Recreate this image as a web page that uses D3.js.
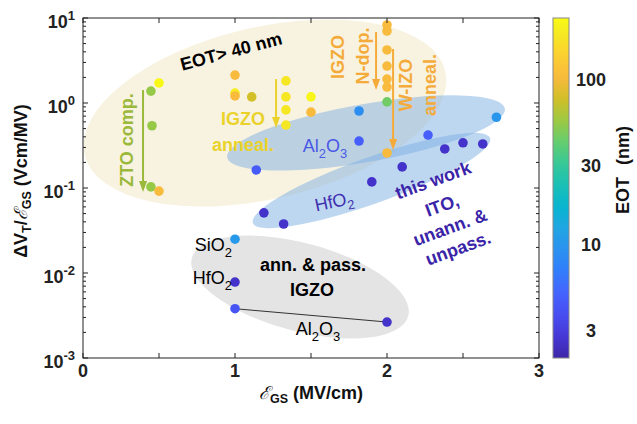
<!DOCTYPE html>
<html><head><meta charset="utf-8">
<script src="https://cdn.jsdelivr.net/npm/d3@7"></script>
<style>
body{margin:0;background:#fff;}
text{font-family:Arial,"Liberation Sans",Helvetica,sans-serif;}
</style>
</head><body>
<svg id="chart" width="637" height="424"></svg>
<script>
// ---------------- data: [E_GS (MV/cm), dVT/E_GS (Vcm/MV), EOT (nm)] ----------------
const ztoPoints = [[0.447,1.38,55],[0.50,1.72,230],[0.454,0.54,55],[0.447,0.103,55],[0.50,0.092,105]];
const igzoAnnealPoints = [[1.0,2.13,105],[1.0,1.31,200],[1.0,1.21,105],[1.11,1.18,78],
  [1.335,1.82,185],[1.335,1.18,185],[1.335,0.83,185],[1.335,0.55,185],[1.5,1.18,220],[1.5,0.78,105]];
const izoPoints = [[2.0,8.28,105],[2.0,7.03,105],[2.0,4.21,105],[2.0,2.72,105],[2.0,1.91,105],
  [2.0,1.54,105],[2.0,1.03,45],[2.0,0.258,105]];
const al2o3Points = [[1.14,0.163,4.6],[1.816,0.805,9],[1.816,0.357,4.8],[2.27,0.42,4.8],[2.72,0.68,10]];
const thisWorkPoints = [[1.19,0.051,2.6],[1.32,0.0377,2.6],[1.9,0.118,2.6],[2.1,0.177,2.6],
  [2.38,0.288,2.6],[2.5,0.34,2.6],[2.63,0.33,2.6]];
const annPassPoints = [[1.0,0.025,10.5],[1.0,0.00783,2.6],[1.0,0.0038,4.2],[2.0,0.00265,2.6]];
const annPassLine = [[1.0,0.0038],[2.0,0.00265]];
const xTicks = [0,0.5,1,1.5,2,2.5,3];
const xLabelTicks = [0,1,2,3];
const xTickLabels = ["0","1","2","3"];
const yTickExponents = [1,0,-1,-2,-3];
const cTicks = [3,10,30,100];
const cTickLabels = ["3","10","30","100"];
// arrows: [x, yStart, yEnd]
const arrowsZTO = [0.395,1.42,0.0897];
const arrowsIGZO = [1.27,1.91,0.508];
const arrowsNdop = [1.928,6.84,1.42];
const arrowsWIZO = [2.04,4.32,0.28];

// ---------------- parula colormap ----------------
const parulaStops = [
 [0,[0.2422,0.1504,0.6603]],[4,[0.2706,0.2147,0.8364]],[8,[0.2813,0.3006,0.9414]],
 [12,[0.2699,0.3892,0.9906]],[16,[0.1963,0.4847,0.9892]],[20,[0.1687,0.5703,0.9359]],
 [24,[0.1248,0.6459,0.8883]],[28,[0.0297,0.7082,0.8163]],[32,[0.0964,0.7500,0.7120]],
 [36,[0.2161,0.7843,0.5923]],[40,[0.3909,0.8029,0.4354]],[44,[0.6174,0.7876,0.2612]],
 [48,[0.8203,0.7498,0.1535]],[52,[0.9728,0.7298,0.2394]],[56,[0.9892,0.8136,0.1885]],
 [60,[0.9597,0.9135,0.1423]],[63,[0.9769,0.9839,0.0805]]];
const parula = d3.scaleLinear()
  .domain(parulaStops.map(d=>d[0]/63))
  .range(parulaStops.map(d=>d3.rgb(d[1][0]*255,d[1][1]*255,d[1][2]*255).toString()))
  .interpolate(d3.interpolateRgb).clamp(true);

// ---------------- layout ----------------
const svg = d3.select("#chart");
const M = {l:83, r:539, t:18, b:358};
const x = d3.scaleLinear().domain([0,3]).range([M.l,M.r]);
const y = d3.scaleLog().domain([1e-3,10]).range([M.b,M.t]);
const cNorm = d3.scaleLog().domain([2.07,238]).range([0,1]).clamp(true);
const cY = d3.scaleLog().domain([2.07,238]).range([358,18]);
const color = v => parula(cNorm(v));
const FS = 18;

svg.append("defs").append("clipPath").attr("id","clip")
  .append("rect").attr("x",M.l).attr("y",M.t).attr("width",M.r-M.l).attr("height",M.b-M.t);
const plot = svg.append("g").attr("clip-path","url(#clip)");

// rich text helper: _{..} subscript
function rich(sel, str){
  const re = /_\{([^}]*)\}|([^_]+)/g; let m, shift=0;
  const fs = parseFloat(sel.attr("font-size"));
  while((m=re.exec(str))){
    if(m[2]!==undefined){
      sel.append("tspan").attr("dy", -shift).text(m[2]); shift=0;
    } else {
      const d = 0.28*fs;
      sel.append("tspan").attr("dy", d-shift).attr("font-size", fs*0.72).text(m[1]);
      shift = d;
    }
  }
}

// ---------------- ellipses (annotation regions) ----------------
const regions = [
 {cx:1.197, cy:0.762, rx:185, ry:86, rot:-13, fill:"#f8f3e1", op:1},
 {cx:1.862, cy:0.444, rx:141, ry:29, rot:-10, fill:"rgb(125,175,228)", op:0.5},
 {cx:1.898, cy:0.1225, rx:126, ry:23, rot:-19.7, fill:"rgb(125,175,228)", op:0.5},
 {cx:1.428, cy:0.00684, rx:112, ry:44, rot:15, fill:"#e4e4e4", op:1}
];
plot.selectAll("ellipse.reg").data(regions).join("ellipse")
  .attr("transform",d=>`translate(${x(d.cx)},${y(d.cy)}) rotate(${d.rot})`)
  .attr("rx",d=>d.rx).attr("ry",d=>d.ry)
  .attr("fill",d=>d.fill).attr("fill-opacity",d=>d.op);

// connecting line
plot.append("path").attr("d", d3.line().x(d=>x(d[0])).y(d=>y(d[1]))(annPassLine))
  .attr("stroke","#333").attr("stroke-width",1).attr("fill","none");

// arrows
function arrow(a, col){
  const X=x(a[0]), Y1=y(a[1]), Y2=y(a[2]);
  plot.append("line").attr("x1",X).attr("x2",X).attr("y1",Y1).attr("y2",Y2-8)
    .attr("stroke",col).attr("stroke-width",2);
  plot.append("path").attr("d",`M${X-4},${Y2-11}L${X+4},${Y2-11}L${X},${Y2}Z`).attr("fill",col);
}
arrow(arrowsZTO,"#9ab83a");
arrow(arrowsIGZO,"#ead22a");
arrow(arrowsNdop,"#f5ab3a");
arrow(arrowsWIZO,"#f5ab3a");

// points
const allGroups = [ztoPoints, igzoAnnealPoints, izoPoints, al2o3Points, thisWorkPoints, annPassPoints];
allGroups.forEach(g=>{
  plot.append("g").selectAll("circle").data(g).join("circle")
    .attr("cx",d=>x(d[0])).attr("cy",d=>y(d[1])).attr("r",4.8)
    .attr("fill",d=>color(d[2]));
});

// ---------------- annotation texts ----------------
const notes = [
 {t:"EOT> 40 nm", x:231, y:51, rot:-15, w:"bold", f:"#000"},
 {t:"ZTO comp.", x:127, y:140, rot:-90, w:"bold", f:"#9ab83a"},
 {t:"IGZO", x:243, y:119, rot:0, w:"bold", f:"#ead22a"},
 {t:"anneal.", x:243, y:145, rot:0, w:"bold", f:"#ead22a"},
 {t:"IGZO", x:338, y:57, rot:-90, w:"bold", f:"#f5ab3a"},
 {t:"N-dop.", x:363, y:56, rot:-90, w:"bold", f:"#f5ab3a"},
 {t:"W-IZO", x:406, y:85, rot:-90, w:"bold", f:"#f5ab3a"},
 {t:"anneal.", x:430, y:85, rot:-90, w:"bold", f:"#f5ab3a"},
 {t:"Al_{2}O_{3}", x:325, y:146, rot:0, w:"normal", f:"#4a58e6"},
 {t:"HfO_{2}", x:334, y:201, rot:-12, w:"normal", f:"#3f30b0"},
 {t:"this work", x:433, y:180, rot:-20, w:"bold", f:"#3a24a8"},
 {t:"ITO,", x:442, y:205, rot:-20, w:"bold", f:"#3a24a8"},
 {t:"unann. &", x:450, y:227, rot:-20, w:"bold", f:"#3a24a8"},
 {t:"unpass.", x:458, y:248, rot:-20, w:"bold", f:"#3a24a8"},
 {t:"SiO_{2}", x:232, y:245, rot:0, w:"normal", f:"#000", a:"end"},
 {t:"HfO_{2}", x:232, y:278, rot:0, w:"normal", f:"#000", a:"end"},
 {t:"Al_{2}O_{3}", x:318, y:329, rot:0, w:"normal", f:"#000"},
 {t:"ann. & pass.", x:313, y:265, rot:0, w:"bold", f:"#000"},
 {t:"IGZO", x:312, y:290, rot:0, w:"bold", f:"#000"}
];
notes.forEach(n=>{
  const tx = svg.append("text")
    .attr("transform",`translate(${n.x},${n.y}) rotate(${n.rot})`)
    .attr("y", FS*0.36).attr("text-anchor", n.a||"middle")
    .attr("font-size", FS).attr("font-weight", n.w).attr("fill", n.f);
  rich(tx, n.t);
});

// ---------------- axes ----------------
const ax = svg.append("g").attr("stroke","#222").attr("stroke-width",1).attr("fill","none");
ax.append("rect").attr("x",M.l).attr("y",M.t).attr("width",M.r-M.l).attr("height",M.b-M.t);
xTicks.forEach(v=>{
  ax.append("line").attr("x1",x(v)).attr("x2",x(v)).attr("y1",M.b).attr("y2",M.b-5);
  ax.append("line").attr("x1",x(v)).attr("x2",x(v)).attr("y1",M.t).attr("y2",M.t+5);
});
for(let k=-3;k<=1;k++){
  for(let m=1;m<=9;m++){
    const v=m*Math.pow(10,k); if(v>10) break;
    const L = m===1?5:3;
    ax.append("line").attr("x1",M.l).attr("x2",M.l+L).attr("y1",y(v)).attr("y2",y(v));
    ax.append("line").attr("x1",M.r).attr("x2",M.r-L).attr("y1",y(v)).attr("y2",y(v));
  }
}
svg.append("g").selectAll("text").data(xLabelTicks).join("text")
  .attr("x",d=>x(d)).attr("y",377).attr("text-anchor","middle")
  .attr("font-size",FS).attr("font-weight","bold").attr("fill","#222")
  .text((d,i)=>xTickLabels[i]);
yTickExponents.forEach(e=>{
  const t = svg.append("text").attr("x",M.l-8).attr("y",y(Math.pow(10,e))+10)
    .attr("text-anchor","end").attr("font-size",FS).attr("font-weight","bold").attr("fill","#222");
  t.append("tspan").text("10");
  t.append("tspan").attr("dy",-8).attr("font-size",13).text(e<0?"-"+(-e):String(e));
});

// axis titles
const xl = svg.append("text").attr("x",311).attr("y",399).attr("text-anchor","middle")
  .attr("font-size",FS).attr("font-weight","bold").attr("fill","#111");
xl.append("tspan").attr("font-weight","normal").attr("font-style","italic").attr("font-family","DejaVu Serif").text("\u2130");
xl.append("tspan").attr("dy",4).attr("font-size",12.5).text("GS");
xl.append("tspan").attr("dy",-4).text(" (MV/cm)");

const yl = svg.append("text").attr("transform","translate(27,181) rotate(-90)")
  .attr("text-anchor","middle").attr("font-size",FS).attr("font-weight","bold").attr("fill","#111");
yl.append("tspan").text("\u0394V");
yl.append("tspan").attr("dy",4).attr("font-size",12.5).text("T");
yl.append("tspan").attr("dy",-4).text("/");
yl.append("tspan").attr("font-weight","normal").attr("font-style","italic").attr("font-family","DejaVu Serif").text("\u2130");
yl.append("tspan").attr("dy",4).attr("font-size",12.5).text("GS");
yl.append("tspan").attr("dy",-4).text(" (Vcm/MV)");

// ---------------- colorbar ----------------
const grad = svg.select("defs").append("linearGradient").attr("id","cbar")
  .attr("x1",0).attr("x2",0).attr("y1",1).attr("y2",0);
d3.range(0,1.0001,0.02).forEach(t=>{
  grad.append("stop").attr("offset",t).attr("stop-color",parula(t));
});
svg.append("rect").attr("x",553).attr("y",18).attr("width",16).attr("height",340)
  .attr("fill","url(#cbar)").attr("stroke","#888").attr("stroke-width",1);
svg.append("g").selectAll("text").data(cTicks).join("text")
  .attr("x",591).attr("y",d=>cY(d)+6).attr("text-anchor","middle")
  .attr("font-size",FS).attr("font-weight","bold").attr("fill","#222")
  .text((d,i)=>cTickLabels[i]);
const el = svg.append("text").attr("transform","translate(629,170) rotate(-90)")
  .attr("text-anchor","middle").attr("font-size",18).attr("font-weight","bold").attr("fill","#111");
el.append("tspan").text("EOT");
el.append("tspan").attr("dx",12).text("(nm)");
</script>
</body></html>
